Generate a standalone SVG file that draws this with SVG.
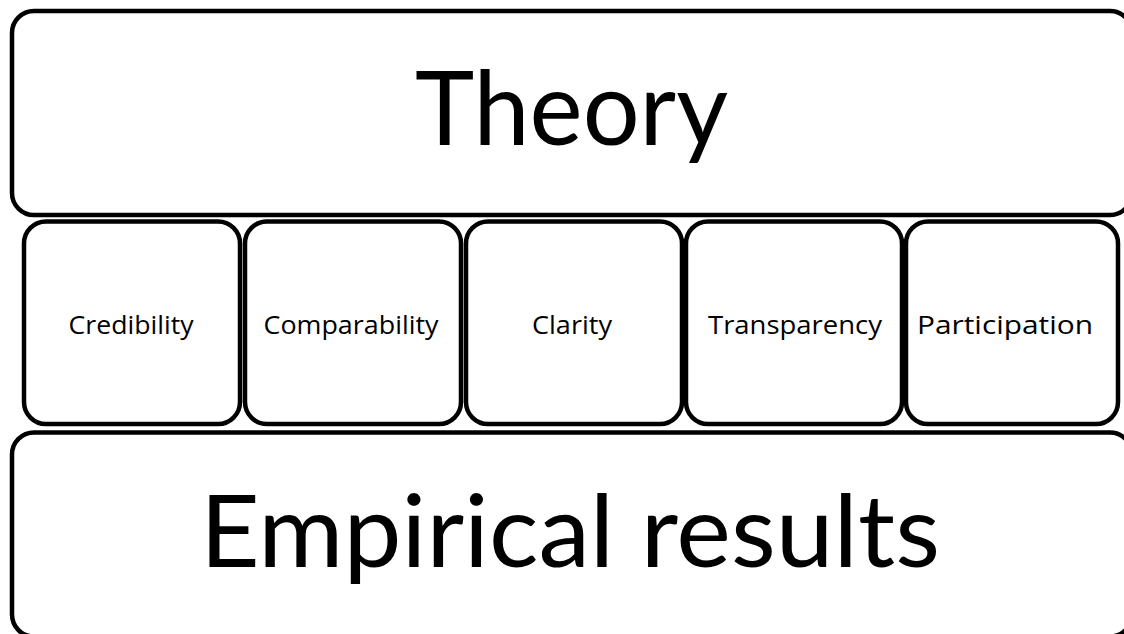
<svg xmlns="http://www.w3.org/2000/svg" width="1124" height="634" viewBox="0 0 1124 634">
<style>
.box{fill:#fff;stroke:#000;stroke-width:4.5}
.big{font-family:Lato,"Open Sans","Liberation Sans",sans-serif;fill:#000;text-anchor:middle;font-variant-ligatures:none}
.lbl{font-family:"Open Sans","Liberation Sans",sans-serif;font-size:25px;fill:#000;text-anchor:middle;font-variant-ligatures:none}
</style>
<rect width="1124" height="634" fill="#fff"/>
<g id="theory">
<rect class="box" x="12" y="11" width="1120" height="204" rx="22"/>
<text class="big" x="571.5" y="145" font-size="102" textLength="313" lengthAdjust="spacingAndGlyphs">Theory</text>
</g>
<g id="credibility">
<rect class="box" x="24" y="221.5" width="216" height="202.5" rx="22"/>
<text class="lbl" x="131" y="334" textLength="125" lengthAdjust="spacingAndGlyphs">Credibility</text>
</g>
<g id="comparability">
<rect class="box" x="245" y="221.5" width="216" height="202.5" rx="22"/>
<text class="lbl" x="351" y="334" textLength="175" lengthAdjust="spacingAndGlyphs">Comparability</text>
</g>
<g id="clarity">
<rect class="box" x="466" y="221.5" width="216" height="202.5" rx="22"/>
<text class="lbl" x="572" y="334" textLength="80" lengthAdjust="spacingAndGlyphs">Clarity</text>
</g>
<g id="transparency">
<rect class="box" x="686" y="221.5" width="216" height="202.5" rx="22"/>
<text class="lbl" x="795" y="334" textLength="174" lengthAdjust="spacingAndGlyphs">Transparency</text>
</g>
<g id="participation">
<rect class="box" x="906" y="221.5" width="212" height="202.5" rx="22"/>
<text class="lbl" x="1005" y="334" textLength="176" lengthAdjust="spacingAndGlyphs">Participation</text>
</g>
<g id="empirical">
<rect class="box" x="12" y="432.5" width="1120" height="204" rx="22"/>
<text class="big" x="570" y="567" font-size="100" textLength="740" lengthAdjust="spacingAndGlyphs">Empirical results</text>
</g>
<g id="connectors"/>
</svg>
